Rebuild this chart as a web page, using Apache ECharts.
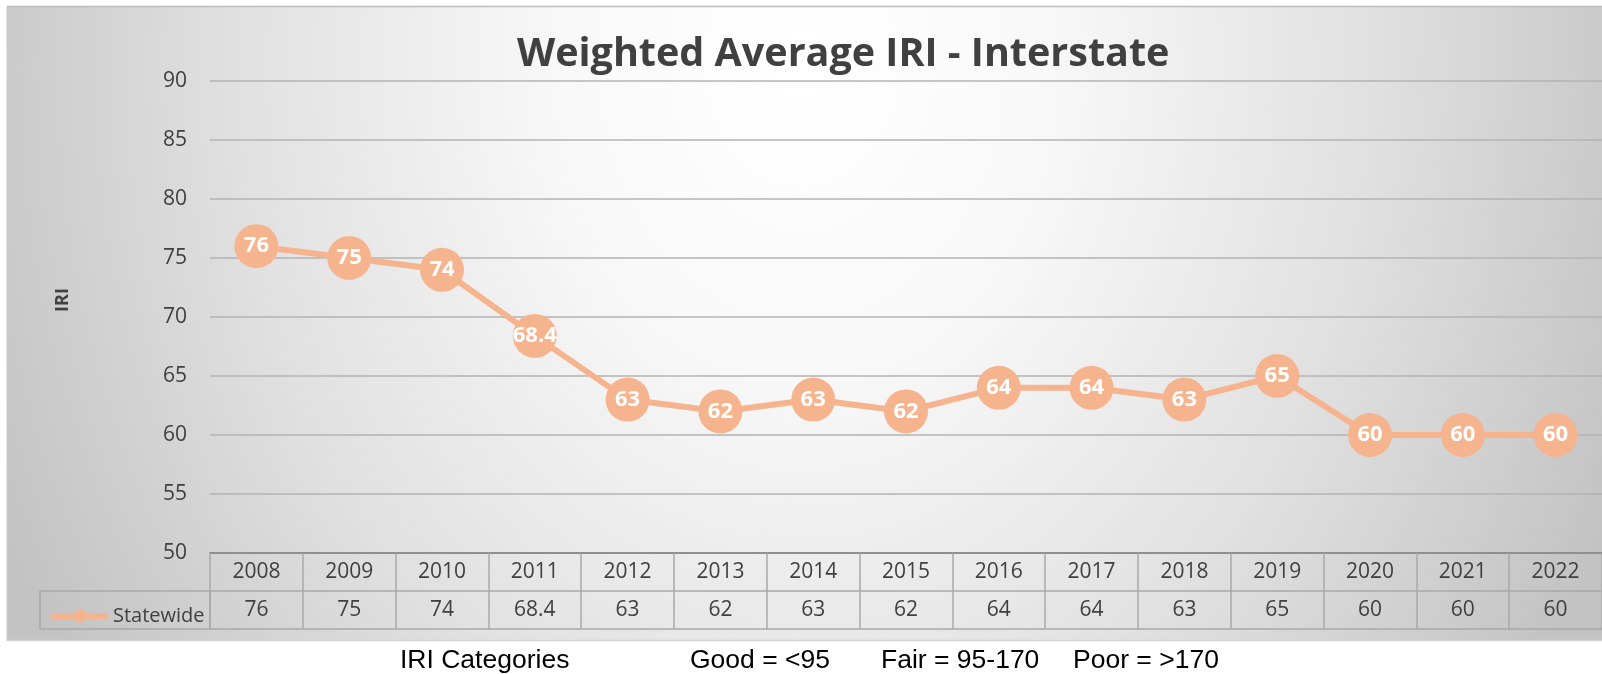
<!DOCTYPE html>
<html><head><meta charset="utf-8">
<script src="https://cdn.jsdelivr.net/npm/echarts@6/dist/echarts.min.js"></script>
<style>html,body{margin:0;padding:0;background:#fff}#c{width:1602px;height:674px}</style>
</head><body><div id="c"></div>
<script>
// ---- data ----
const years = ['2008','2009','2010','2011','2012','2013','2014','2015','2016','2017','2018','2019','2020','2021','2022'];
const statewide = [76, 75, 74, 68.4, 63, 62, 63, 62, 64, 64, 63, 65, 60, 60, 60];
const seriesName = 'Statewide';
const titleText = 'Weighted Average IRI - Interstate';
const yAxisTitle = 'IRI';
const yMin = 50, yMax = 90, yStep = 5;
const footIRI = 'IRI Categories';
const footGood = 'Good = <95';
const footFair = 'Fair = 95-170';
const footPoor = 'Poor = >170';

// ---- chart ----
const FONT = "'Open Sans', sans-serif";
const FOOTFONT = "'Liberation Sans', Arial, sans-serif";
const ORANGE = '#F6B48E';
const CELL = '#a9a9a9';
const chart = echarts.init(document.getElementById('c'), null, {renderer: 'canvas'});
const K = 1.25; // vertical stretch of background gradient
const BW = 1600, BH = 635;
chart.setOption({
  animation: false,
  title: {
    text: titleText, left: 512, top: 30,
    textStyle: {fontFamily: FONT, fontWeight: 'bold', fontSize: 39.5, color: '#404040'}
  },
  legend: {
    left: 44, top: 601, itemWidth: 56, itemHeight: 16, itemGap: 0,
    lineStyle: {width: 6},
    textStyle: {fontFamily: FONT, fontSize: 20, color: '#404040', padding: [0,0,0,0]},
    data: [seriesName]
  },
  grid: {left: 210, right: -7, top: 81, bottom: 121, containLabel: false},
  xAxis: [
    {
      type: 'category', data: years, boundaryGap: true, position: 'bottom',
      axisLine: {show: true, lineStyle: {color: '#8f8f8f', width: 2}},
      axisTick: {show: true, inside: false, length: 76, lineStyle: {color: CELL, width: 1.5}},
      axisLabel: {fontFamily: FONT, fontSize: 21, color: '#404040', margin: 9, interval: 0},
      splitLine: {show: false}
    },
    {
      type: 'category', data: statewide.map(v => String(v)), boundaryGap: true, position: 'bottom', offset: 38,
      axisLine: {show: true, lineStyle: {color: CELL, width: 1.5}},
      axisTick: {show: false},
      axisLabel: {fontFamily: FONT, fontSize: 21, color: '#404040', margin: 9, interval: 0},
      splitLine: {show: false}
    },
    {
      type: 'category', data: years, boundaryGap: true, position: 'bottom', offset: 76,
      axisLine: {show: true, lineStyle: {color: CELL, width: 1.5}},
      axisTick: {show: false}, axisLabel: {show: false}, splitLine: {show: false}
    }
  ],
  yAxis: {
    type: 'value', min: yMin, max: yMax, interval: yStep,
    axisLine: {show: false}, axisTick: {show: false},
    axisLabel: {fontFamily: FONT, fontSize: 21, color: '#404040', margin: 23},
    splitLine: {show: true, lineStyle: {color: '#b3b3b3', width: 1.5}}
  },
  series: [{
    name: seriesName, type: 'line', xAxisIndex: 0, data: statewide,
    symbol: 'circle', symbolSize: 44,
    itemStyle: {color: ORANGE},
    lineStyle: {color: ORANGE, width: 6},
    label: {show: true, position: 'inside', color: '#ffffff', fontFamily: FONT, fontWeight: 'bold', fontSize: 22,
      formatter: p => String(p.value)},
    z: 5
  }],
  graphic: [
    {
      type: 'rect', z: -100, x: 7, y: 6, scaleY: K,
      shape: {x: 0, y: 0, width: BW, height: BH / K},
      style: {
        fill: new echarts.graphic.RadialGradient(795, 60 / K, 880, [
          {offset: 0, color: '#ffffff'},
          {offset: 0.28, color: '#f8f8f8'},
          {offset: 0.65, color: '#e0e0e0'},
          {offset: 1, color: '#c3c3c3'}
        ], true),
        stroke: null
      },
      silent: true
    },
    {type: 'line', z: -90, shape: {x1: 7, y1: 6.5, x2: 1602, y2: 6.5}, style: {stroke: '#bdbdbd', lineWidth: 1.5}, silent: true},
    {type: 'line', z: -90, shape: {x1: 7, y1: 6, x2: 7, y2: 641}, style: {stroke: '#c8c8c8', lineWidth: 1}, silent: true},
    {type: 'line', z: -90, shape: {x1: 7, y1: 640.5, x2: 1602, y2: 640.5}, style: {stroke: '#d4d4d4', lineWidth: 1.5}, silent: true},
    {type: 'rect', z: 10, shape: {x: 40, y: 591, width: 170, height: 38}, style: {fill: null, stroke: CELL, lineWidth: 1.5}, silent: true},
    {type: 'text', z: 10, x: 63, y: 300, rotation: Math.PI / 2,
      style: {text: yAxisTitle, fontFamily: FONT, fontWeight: 'bold', fontSize: 18, fill: '#404040', align: 'center', verticalAlign: 'middle'}},
    {type: 'text', x: 400, y: 661, style: {text: footIRI, fontFamily: FOOTFONT, fontSize: 26.5, fill: '#000', verticalAlign: 'middle'}},
    {type: 'text', x: 690, y: 661, style: {text: footGood, fontFamily: FOOTFONT, fontSize: 26.5, fill: '#000', verticalAlign: 'middle'}},
    {type: 'text', x: 881, y: 661, style: {text: footFair, fontFamily: FOOTFONT, fontSize: 26.5, fill: '#000', verticalAlign: 'middle'}},
    {type: 'text', x: 1073, y: 661, style: {text: footPoor, fontFamily: FOOTFONT, fontSize: 26.5, fill: '#000', verticalAlign: 'middle'}}
  ]
});
</script></body></html>
